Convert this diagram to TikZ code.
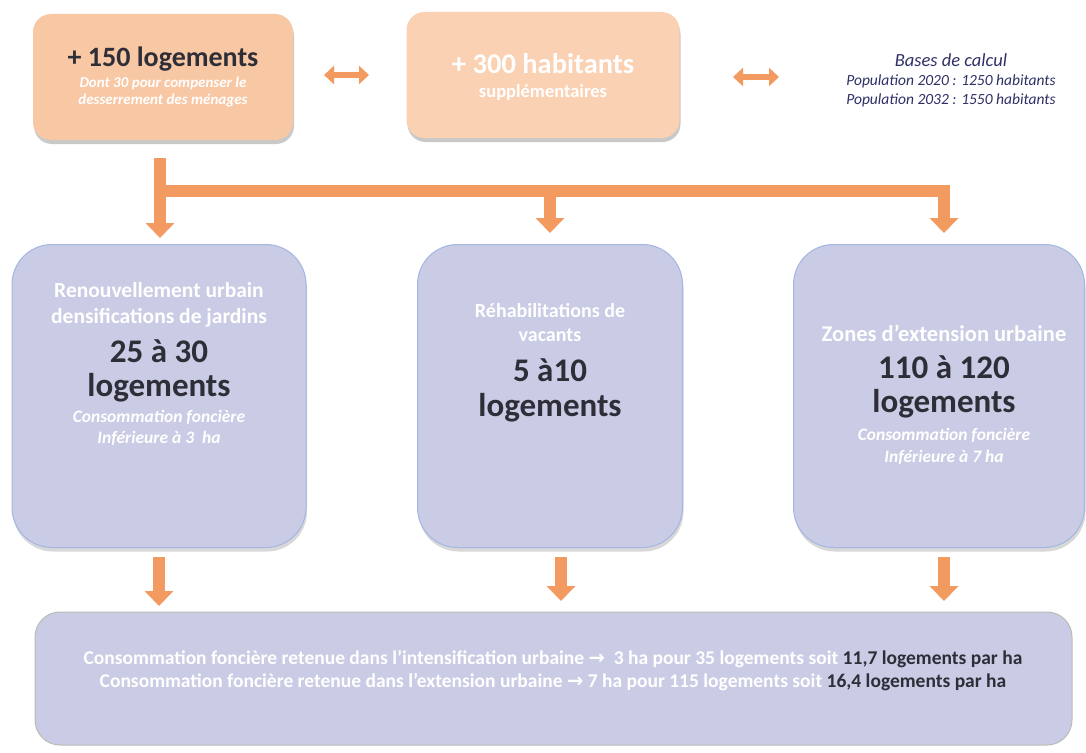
\documentclass[tikz,border=0pt]{standalone}
\usepackage{fontspec}
\setmainfont{Carlito}
\newfontfamily\symfont{DejaVu Sans}
\usetikzlibrary{arrows.meta,calc,shadows}
\definecolor{arr}{HTML}{F39A60}
\definecolor{peachA}{HTML}{F8C7A4}
\definecolor{peachB}{HTML}{FAD1B3}
\definecolor{lav}{HTML}{C9CCE4}
\definecolor{lavB}{HTML}{A3B7E2}
\definecolor{botB}{HTML}{B9BDB4}
\definecolor{dark}{HTML}{2E2E38}
\definecolor{basec}{HTML}{2E3066}
\tikzset{
  topbox/.style={draw=none, rounded corners=18pt, inner sep=0pt, drop shadow={shadow xshift=1pt, shadow yshift=-4pt, fill=black!35, opacity=0.6}},
  midbox/.style={draw=lavB, line width=1pt, fill=lav, rounded corners=40pt, inner sep=0pt, minimum width=#1, minimum height=303pt, drop shadow={shadow xshift=1pt, shadow yshift=-4pt, fill=black!30, opacity=0.5}},
  botbox/.style={draw=botB, line width=1pt, fill=lav, rounded corners=25pt, inner sep=0pt, minimum width=1037pt, minimum height=133pt},
  bigarrow/.style={draw=arr, line width=12pt, -{Triangle[length=15pt,width=28pt]}},
  bar/.style={draw=arr, line width=12pt},
  dblarrow/.style={draw=arr, line width=6pt, {Triangle[length=10pt,width=18pt]}-{Triangle[length=10pt,width=18pt]}},
  wtxt/.style={text=white, align=center, inner sep=0pt},
  dtxt/.style={text=dark, align=center, inner sep=0pt, font=\bfseries\fontsize{33}{38}\selectfont},
}
\begin{document}
\begin{tikzpicture}[x=1pt,y=-1pt]
\useasboundingbox[fill=white] (0,0) rectangle (1086,752);
% top boxes
\node[topbox, fill=peachA, minimum width=260pt, minimum height=126pt] (b1) at (163,77) {};
\node[topbox, fill=peachB, minimum width=273pt, minimum height=126pt] (b2) at (543,75) {};
\node[text=dark, font=\bfseries\fontsize{28}{32}\selectfont, inner sep=0pt] (t1) at (163,59) {+ 150 logements};
\node[wtxt, font=\bfseries\itshape\fontsize{15}{17}\selectfont] (t1b) at (163,92) {Dont 30 pour compenser le\\desserrement des ménages};
\node[wtxt, font=\bfseries\fontsize{28.5}{32}\selectfont] (t2) at (543,64) {+ 300 habitants};
\node[wtxt, font=\bfseries\fontsize{18.5}{22}\selectfont] (t2b) at (543,92) {supplémentaires};
\node[text=basec, font=\itshape\fontsize{18.5}{22}\selectfont, inner sep=0pt] (bc) at (951,60) {Bases de calcul};
\node[text=basec, font=\itshape\fontsize{15.5}{19}\selectfont, align=center, inner sep=0pt] (bc2) at (951,91) {Population 2020 : 1250 habitants\\Population 2032 : 1550 habitants};
% double arrows
\coordinate (d1a) at (324,75); \coordinate (d1b) at (369,75);
\coordinate (d2a) at (733,77); \coordinate (d2b) at (779,77);
\draw[dblarrow] (d1a) -- (d1b);
\draw[dblarrow] (d2a) -- (d2b);
% middle boxes
\node[midbox=294pt] (ma) at (159,396) {};
\node[midbox=265pt] (mb) at (550,396) {};
\node[midbox=291pt] (mc) at (939,396) {};
% distribution arrows
\coordinate (s0) at (160,158);
\coordinate (j1) at (160,191);
\coordinate (j2) at (550,191);
\coordinate (j3) at (944,191);
\draw[bar] ($(j1)+(-6,0)$) -- ($(j3)+(6,0)$);
\draw[bigarrow] (s0) -- (160,238);
\draw[bigarrow] (j2) -- (550,233);
\draw[bigarrow] (j3) -- (944,233);
% middle texts
\node[wtxt, font=\bfseries\fontsize{21.5}{26}\selectfont] (ta1) at (159,305) {Renouvellement urbain\\densifications de jardins};
\node[dtxt] (ta2) at (159,351) {25 à 30};
\node[dtxt] (ta3) at (159,388) {logements};
\node[wtxt, font=\bfseries\itshape\fontsize{17.5}{21}\selectfont] (ta4) at (159,428) {Consommation foncière\\Inférieure à 3~~ha};
\node[wtxt, font=\bfseries\fontsize{20}{24}\selectfont] (tb1) at (550,323) {Réhabilitations de\\vacants};
\node[dtxt] (tb2) at (550,370) {5 à10};
\node[dtxt] (tb3) at (550,408) {logements};
\node[wtxt, font=\bfseries\fontsize{22.5}{26}\selectfont] (tc1) at (944,333) {Zones d’extension urbaine};
\node[dtxt] (tc2) at (944,367) {110 à 120};
\node[dtxt] (tc3) at (944,404) {logements};
\node[wtxt, font=\bfseries\itshape\fontsize{17.5}{22}\selectfont] (tc4) at (944,446) {Consommation foncière\\Inférieure à 7 ha};
% bottom
\node[botbox] (bot) at (553.5,678.5) {};
\draw[bigarrow] (ma.south |- 0,557) -- (ma.south |- 0,606);
\draw[bigarrow] (561,557) -- (561,601);
\draw[bigarrow] (944,557) -- (944,601);
\node[wtxt, font=\bfseries\fontsize{19.5}{23}\selectfont] (bt) at (553,671) {Consommation foncière retenue dans l’intensification urbaine {\symfont\bfseries →} ~3 ha pour 35 logements soit \textcolor{dark}{11,7 logements par ha}\\Consommation foncière retenue dans l’extension urbaine {\symfont\bfseries →} 7 ha pour 115 logements soit \textcolor{dark}{16,4 logements par ha}};
\end{tikzpicture}
\end{document}
